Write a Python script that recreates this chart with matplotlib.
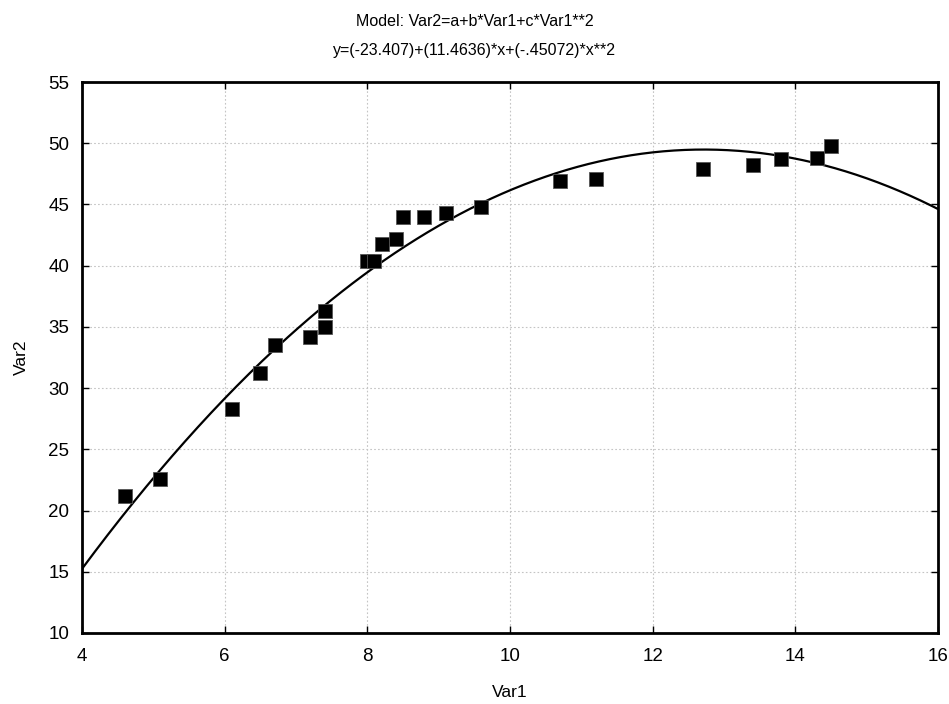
"""
Quadratic fit of Var2 on Var1 — scatter with fitted curve
"""

import numpy as np
import matplotlib.pyplot as plt

plt.rcParams['font.family'] = ['Liberation Sans', 'DejaVu Sans']

# data
var1 = [4.6, 5.1, 6.1, 6.5, 6.7, 7.2, 7.4, 7.4, 8.0, 8.1, 8.2, 8.4,
        8.5, 8.8, 9.1, 9.6, 10.7, 11.2, 12.7, 13.4, 13.8, 14.3, 14.5]
var2 = [21.2, 22.6, 28.3, 31.2, 33.5, 34.2, 35.0, 36.3, 40.4, 40.4, 41.8, 42.2,
        44.0, 44.0, 44.3, 44.8, 46.9, 47.1, 47.9, 48.2, 48.7, 48.8, 49.8]

# fitted model coefficients
a, b, c = -23.407, 11.4636, -0.45072

xticks = [4, 6, 8, 10, 12, 14, 16]
yticks = [10, 15, 20, 25, 30, 35, 40, 45, 50, 55]

fig = plt.figure(figsize=(9.49, 7.04), dpi=100)
ax = fig.add_axes([0.0864, 0.1009, 0.9020, 0.7826])

xs = np.linspace(4, 16, 400)
ax.plot(xs, a + b * xs + c * xs ** 2, color="black", lw=1.6, zorder=3)
ax.plot(var1, var2, linestyle="none", marker="s", markersize=9.5,
        markerfacecolor="black", markeredgecolor="#555555", markeredgewidth=0.6, zorder=4)

ax.set_xlim(4, 16)
ax.set_ylim(10, 55)
ax.set_xticks(xticks)
ax.set_yticks(yticks)
ax.tick_params(direction="in", top=True, right=True, length=5, width=1,
               labelsize=13.5)
ax.tick_params(axis="x", pad=11)
ax.tick_params(axis="y", pad=9)
ax.grid(True, color="#c4c4c4", linestyle=(0, (1.5, 2)), linewidth=0.8)
for s in ax.spines.values():
    s.set_linewidth(2)

ax.set_xlabel("Var1", fontsize=12.5, labelpad=14)
ax.set_ylabel("Var2", fontsize=12.5, labelpad=14)

fig.text(0.5, 1 - 22 / 704, "Model: Var2=a+b*Var1+c*Var1**2",
         ha="center", va="center", fontsize=11.5)
fig.text(0.5, 1 - 51 / 704, "y=(-23.407)+(11.4636)*x+(-.45072)*x**2",
         ha="center", va="center", fontsize=11.5)

plt.savefig("out.png", dpi=100)
